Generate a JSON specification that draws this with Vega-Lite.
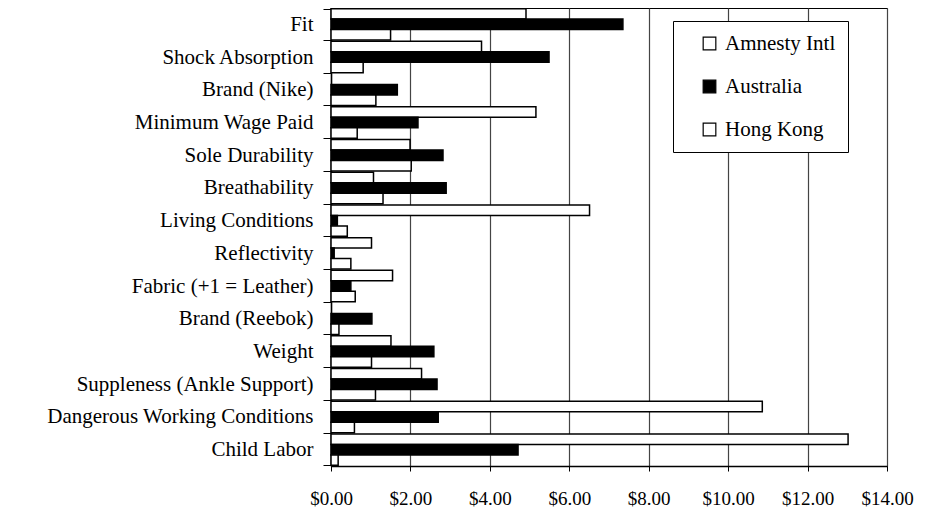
{
  "$schema": "https://vega.github.io/schema/vega-lite/v6.json",
  "width": 556,
  "height": 458,
  "autosize": {"type": "none"},
  "padding": {"left": 331, "top": 8, "right": 53, "bottom": 46},
  "background": "white",
  "config": {
    "font": "Liberation Serif",
    "view": {"stroke": "#000", "strokeWidth": 1},
    "axis": {"labelColor": "#000", "domainColor": "#000", "tickColor": "#000", "labelFont": "Liberation Serif"},
    "legend": {"labelFont": "Liberation Serif"}
  },
  "data": {
    "values": [
      {"attribute": "Fit", "group": "Amnesty Intl", "value": 4.91},
      {"attribute": "Fit", "group": "Australia", "value": 7.35},
      {"attribute": "Fit", "group": "Hong Kong", "value": 1.5},
      {"attribute": "Shock Absorption", "group": "Amnesty Intl", "value": 3.79},
      {"attribute": "Shock Absorption", "group": "Australia", "value": 5.49},
      {"attribute": "Shock Absorption", "group": "Hong Kong", "value": 0.81},
      {"attribute": "Brand (Nike)", "group": "Australia", "value": 1.67},
      {"attribute": "Brand (Nike)", "group": "Hong Kong", "value": 1.13},
      {"attribute": "Minimum Wage Paid", "group": "Amnesty Intl", "value": 5.16},
      {"attribute": "Minimum Wage Paid", "group": "Australia", "value": 2.19},
      {"attribute": "Minimum Wage Paid", "group": "Hong Kong", "value": 0.66},
      {"attribute": "Sole Durability", "group": "Amnesty Intl", "value": 1.99},
      {"attribute": "Sole Durability", "group": "Australia", "value": 2.82},
      {"attribute": "Sole Durability", "group": "Hong Kong", "value": 2.02},
      {"attribute": "Breathability", "group": "Amnesty Intl", "value": 1.07},
      {"attribute": "Breathability", "group": "Australia", "value": 2.9},
      {"attribute": "Breathability", "group": "Hong Kong", "value": 1.31},
      {"attribute": "Living Conditions", "group": "Amnesty Intl", "value": 6.51},
      {"attribute": "Living Conditions", "group": "Australia", "value": 0.16},
      {"attribute": "Living Conditions", "group": "Hong Kong", "value": 0.41},
      {"attribute": "Reflectivity", "group": "Amnesty Intl", "value": 1.02},
      {"attribute": "Reflectivity", "group": "Australia", "value": 0.08},
      {"attribute": "Reflectivity", "group": "Hong Kong", "value": 0.5},
      {"attribute": "Fabric (+1 = Leather)", "group": "Amnesty Intl", "value": 1.55},
      {"attribute": "Fabric (+1 = Leather)", "group": "Australia", "value": 0.5},
      {"attribute": "Fabric (+1 = Leather)", "group": "Hong Kong", "value": 0.61},
      {"attribute": "Brand (Reebok)", "group": "Australia", "value": 1.03},
      {"attribute": "Brand (Reebok)", "group": "Hong Kong", "value": 0.2},
      {"attribute": "Weight", "group": "Amnesty Intl", "value": 1.51},
      {"attribute": "Weight", "group": "Australia", "value": 2.59},
      {"attribute": "Weight", "group": "Hong Kong", "value": 1.02},
      {"attribute": "Suppleness (Ankle Support)", "group": "Amnesty Intl", "value": 2.28},
      {"attribute": "Suppleness (Ankle Support)", "group": "Australia", "value": 2.67},
      {"attribute": "Suppleness (Ankle Support)", "group": "Hong Kong", "value": 1.12},
      {"attribute": "Dangerous Working Conditions", "group": "Amnesty Intl", "value": 10.86},
      {"attribute": "Dangerous Working Conditions", "group": "Australia", "value": 2.7},
      {"attribute": "Dangerous Working Conditions", "group": "Hong Kong", "value": 0.59},
      {"attribute": "Child Labor", "group": "Amnesty Intl", "value": 13.02},
      {"attribute": "Child Labor", "group": "Australia", "value": 4.71},
      {"attribute": "Child Labor", "group": "Hong Kong", "value": 0.18}
    ]
  },
  "mark": {"type": "bar", "stroke": "#000", "strokeWidth": 1.5},
  "encoding": {
    "y": {
      "field": "attribute",
      "type": "nominal",
      "sort": ["Fit", "Shock Absorption", "Brand (Nike)", "Minimum Wage Paid", "Sole Durability", "Breathability", "Living Conditions", "Reflectivity", "Fabric (+1 = Leather)", "Brand (Reebok)", "Weight", "Suppleness (Ankle Support)", "Dangerous Working Conditions", "Child Labor"],
      "scale": {"paddingInner": 0.04, "paddingOuter": 0.02},
      "axis": {
        "title": null,
        "labelFontSize": 21,
        "tickSize": 8,
        "tickBand": "extent",
        "labelPadding": 10,
        "domainWidth": 1.5,
        "labelLimit": 330
      }
    },
    "yOffset": {
      "field": "group",
      "type": "nominal",
      "sort": ["Amnesty Intl", "Australia", "Hong Kong"],
      "scale": {"paddingInner": 0, "paddingOuter": 0}
    },
    "x": {
      "field": "value",
      "type": "quantitative",
      "scale": {"domain": [0, 14], "nice": false},
      "axis": {
        "title": null,
        "values": [0, 2, 4, 6, 8, 10, 12, 14],
        "format": "$.2f",
        "labelFontSize": 19,
        "labelFlush": false,
        "labelOverlap": false,
        "tickSize": 5,
        "labelPadding": 18,
        "grid": true,
        "gridColor": "#444",
        "gridOpacity": 1,
        "gridWidth": 1.2,
        "domainWidth": 1.5
      }
    },
    "fill": {
      "field": "group",
      "type": "nominal",
      "sort": ["Amnesty Intl", "Australia", "Hong Kong"],
      "scale": {"domain": ["Amnesty Intl", "Australia", "Hong Kong"], "range": ["#ffffff", "#000000", "#ffffff"]},
      "legend": {
        "title": null,
        "orient": "none",
        "legendX": 342,
        "legendY": 13,
        "direction": "vertical",
        "fillColor": "#ffffff",
        "strokeColor": "#000",
        "padding": 12,
        "symbolType": "square",
        "symbolSize": 160,
        "symbolStrokeColor": "#000",
        "symbolStrokeWidth": 1.2,
        "symbolOffset": 14,
        "labelFontSize": 21,
        "labelColor": "#000",
        "labelOffset": 5,
        "rowPadding": 21
      }
    }
  }
}
